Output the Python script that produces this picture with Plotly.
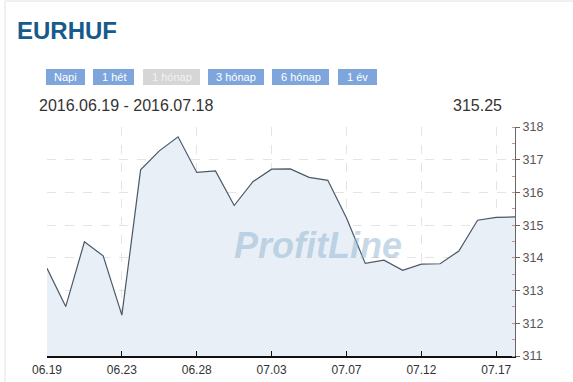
import plotly.graph_objects as go

# ---- data ----
dates = ["06.19", "06.20", "06.21", "06.22", "06.23", "06.24", "06.26", "06.27",
         "06.28", "06.29", "06.30", "07.01", "07.03", "07.04", "07.05", "07.06",
         "07.07", "07.08", "07.10", "07.11", "07.12", "07.13", "07.14", "07.15",
         "07.17", "07.18"]
rates = [313.68, 312.51, 314.49, 314.06, 312.25, 316.69, 317.27, 317.70,
         316.61, 316.66, 315.60, 316.33, 316.71, 316.72, 316.46, 316.37,
         315.22, 313.83, 313.93, 313.62, 313.81, 313.82, 314.21, 315.15,
         315.24, 315.25]
tick_labels = ["06.19", "06.23", "06.28", "07.03", "07.07", "07.12", "07.17"]
y_ticks = [311, 312, 313, 314, 315, 316, 317, 318]
title = "EURHUF"
range_text = "2016.06.19 - 2016.07.18"
last_value = "315.25"
buttons = ["Napi", "1 hét", "1 hónap", "3 hónap", "6 hónap", "1 év"]

# ---- layout geometry (pixels) ----
W, H = 573, 382
L, R, T, B = 47, 515, 127, 356

def px(x):
    return (x - L) / (R - L)

def py(y):
    return (B - y) / (B - T)

FONT = "Liberation Sans, Arial, sans-serif"

fig = go.Figure()
fig.add_trace(go.Scatter(
    x=dates, y=rates, mode="lines",
    line=dict(color="#4a5866", width=1.2),
    fill="tozeroy", fillcolor="#e9eff7",
    hoverinfo="x+y", showlegend=False,
))

shapes = []
annotations = []

# page border
shapes.append(dict(type="rect", xref="paper", yref="paper",
                   x0=px(5), x1=px(600), y0=py(1), y1=py(420),
                   line=dict(color="#e2e2e2", width=1), layer="below"))

# buttons
btn_boxes = [(46, 85), (93, 134), (143, 200), (208, 264), (272, 329), (338, 377)]
for label, (x0, x1) in zip(buttons, btn_boxes):
    active = label != "1 hónap"
    shapes.append(dict(type="rect", xref="paper", yref="paper",
                       x0=px(x0), x1=px(x1), y0=py(85), y1=py(69),
                       fillcolor="#7ea5dc" if active else "#d6d6d6",
                       line=dict(width=0), layer="above"))
    annotations.append(dict(xref="paper", yref="paper",
                            x=px((x0 + x1) / 2), y=py(77), text=label,
                            showarrow=False, xanchor="center", yanchor="middle",
                            font=dict(family=FONT, size=11,
                                      color="#ffffff" if active else "#f2f2f2")))

annotations += [
    dict(xref="paper", yref="paper", x=px(15), y=py(30), text="<b>" + title + "</b>",
         showarrow=False, xanchor="left", yanchor="middle",
         font=dict(family=FONT, size=24, color="#175a8c")),
    dict(xref="paper", yref="paper", x=px(37), y=py(105), text=range_text,
         showarrow=False, xanchor="left", yanchor="middle",
         font=dict(family=FONT, size=16, color="#333333")),
    dict(xref="paper", yref="paper", x=px(504), y=py(105), text=last_value,
         showarrow=False, xanchor="right", yanchor="middle",
         font=dict(family=FONT, size=16, color="#333333")),
    dict(xref="paper", yref="paper", x=px(318), y=py(245), text="<b><i>ProfitLine</i></b>",
         showarrow=False, xanchor="center", yanchor="middle",
         font=dict(family=FONT, size=36, color="rgba(150,185,210,0.55)")),
]

fig.update_layout(
    width=W, height=H,
    margin=dict(l=L, r=W - R, t=T, b=H - B, pad=0),
    paper_bgcolor="white", plot_bgcolor="white",
    shapes=shapes, annotations=annotations,
    hovermode="x",
    xaxis=dict(
        type="category", categoryorder="array", categoryarray=dates,
        range=[0, len(dates) - 1], automargin=False,
        tickmode="array", tickvals=tick_labels, ticktext=tick_labels,
        showgrid=True, gridcolor="#e4e4e4", griddash="dash", gridwidth=1,
        showline=True, linecolor="#111111", linewidth=1.5,
        ticks="inside", ticklen=5, tickcolor="#111111",
        ticklabelstandoff=2,
        tickfont=dict(family=FONT, size=12, color="#333333"),
        zeroline=False, fixedrange=True,
    ),
    yaxis=dict(
        side="right", range=[311, 318], automargin=False,
        tickmode="array", tickvals=y_ticks,
        showgrid=True, gridcolor="#e4e4e4", griddash="dash", gridwidth=1,
        showline=True, linecolor="#666666", linewidth=1,
        ticks="outside", ticklen=4, tickcolor="#666666",
        minor=dict(dtick=0.5, ticks="inside", ticklen=3, tickcolor="#d09090", showgrid=False),
        tickfont=dict(family=FONT, size=12.5, color="#555555"),
        zeroline=False, fixedrange=True,
    ),
)

fig.write_html("out.html")
